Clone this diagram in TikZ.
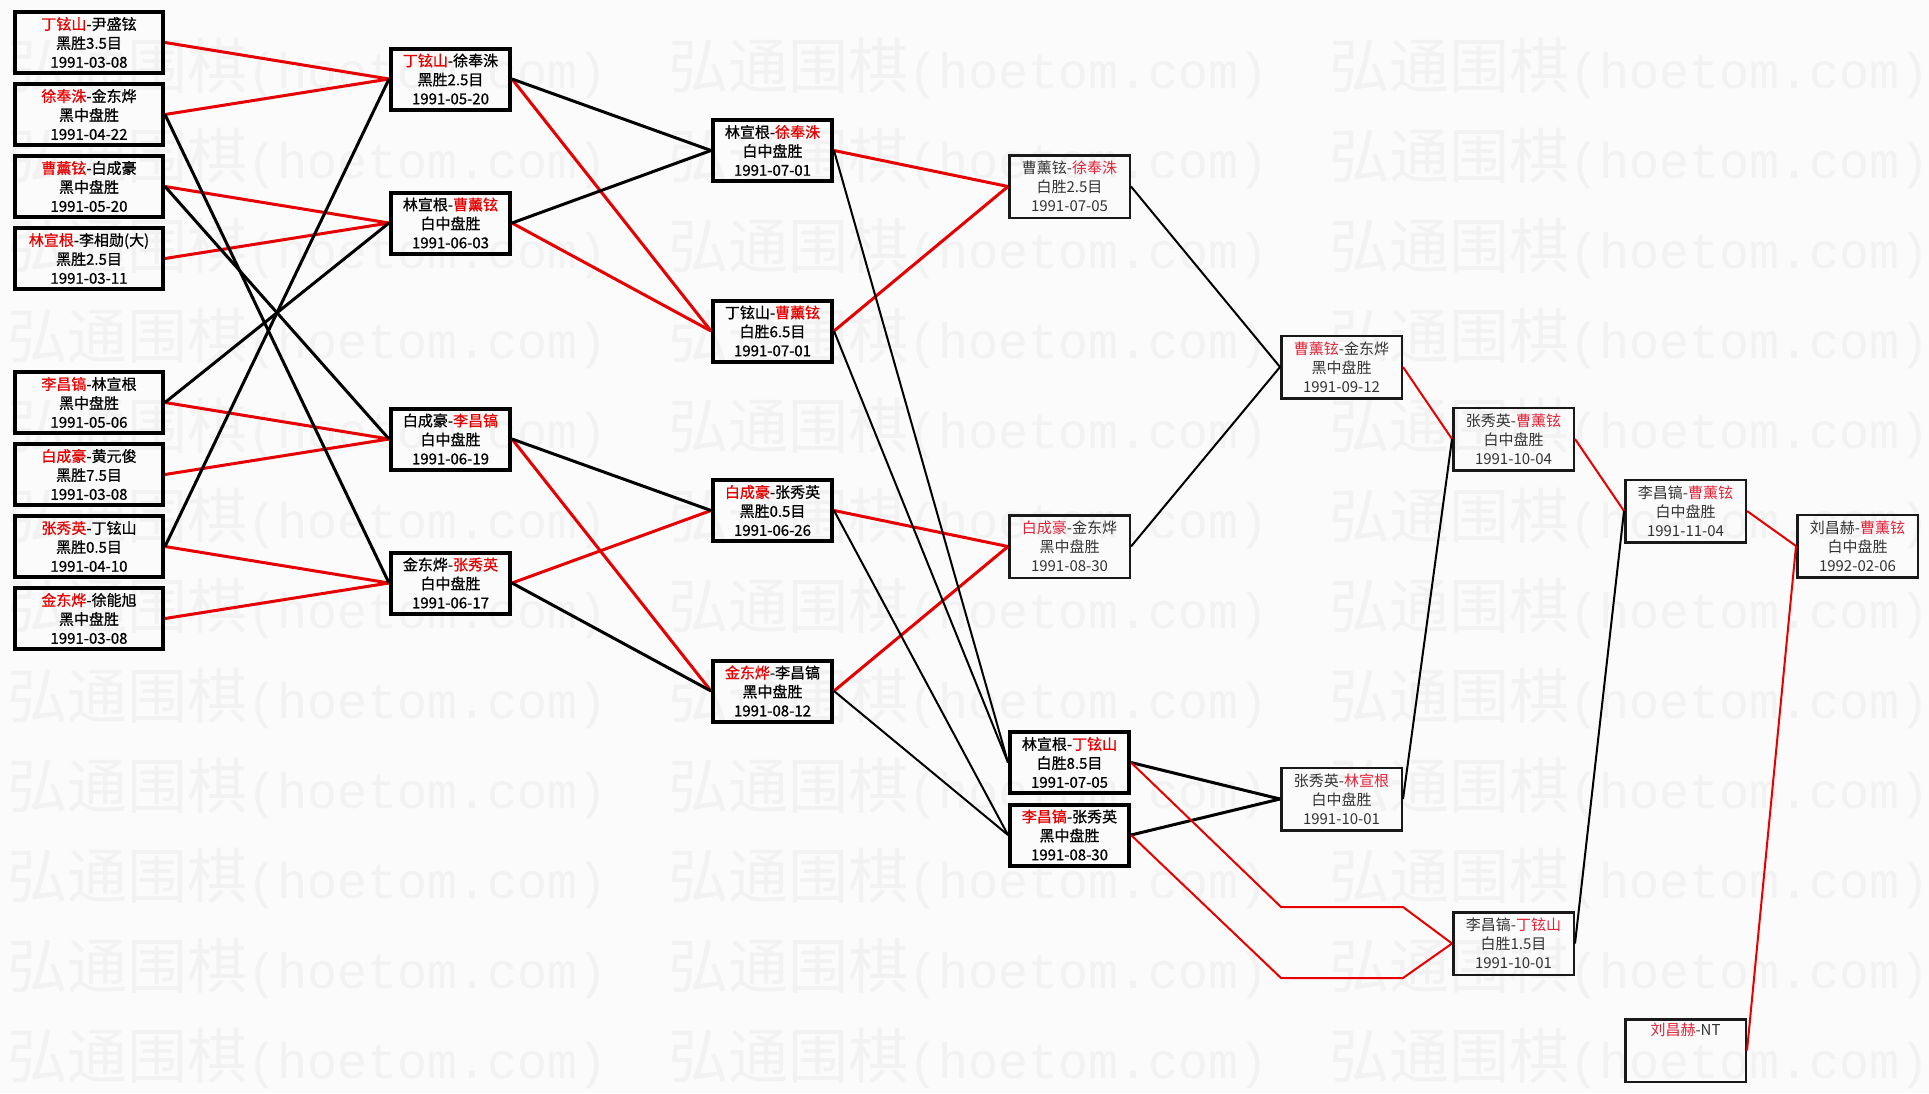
\documentclass[tikz,border=0pt]{standalone}
\usepackage{fontspec}
\setmainfont{Noto Sans CJK SC}
\newfontfamily\boldcjk{Noto Sans CJK SC}[FakeBold=0.8]
\newfontfamily\wmmono{Liberation Mono}
\definecolor{nred}{RGB}{230,0,0}
\definecolor{lred}{RGB}{225,35,55}
\definecolor{bgc}{RGB}{251,251,251}
\definecolor{wmc}{RGB}{242,242,242}
\newcommand\R[1]{\textcolor{nred}{#1}}
\newcommand\Rl[1]{\textcolor{lred}{#1}}
\tikzset{
 mbox/.style={draw=black, line width=4pt, inner sep=0pt, minimum width=119pt, minimum height=61pt, align=center, font=\boldcjk\fontsize{15}{19}\selectfont, text=black},
 widebox/.style={mbox, minimum width=148pt},
 lbox/.style={draw=black!90, line width=2.5pt, inner sep=0pt, minimum width=120.5pt, minimum height=62.5pt, align=center, font=\fontsize{15}{19}\selectfont, text=black!80},
 wl/.style={draw=nred, line width=3pt},
 ll/.style={draw=black, line width=3pt},
 wlt/.style={draw=nred, line width=2pt},
 llt/.style={draw=black, line width=2pt},
 wmark/.style={anchor=base west, inner sep=0pt, text=wmc},
}
\begin{document}
\begin{tikzpicture}[x=1pt,y=-1pt]
\clip (0,0) rectangle (1929,1093);
\fill[bgc] (0,0) rectangle (1929,1093);
% watermark
\foreach \k in {0,...,11}{
  \foreach \j in {0,1,2}{
    \node[wmark] (wm-\k-\j) at ({7+661*\j},{88+90*\k}) {\fontsize{60}{60}\selectfont 弘通围棋\wmmono\fontsize{50}{50}\selectfont(hoetom.com)};
  }
}
% column 1
\node[widebox] (a1) at (89,42.5) {\R{丁铉山}-尹盛铉\\黑胜3.5目\\1991-03-08};
\node[widebox] (a2) at (89,114.5) {\R{徐奉洙}-金东烨\\黑中盘胜\\1991-04-22};
\node[widebox] (a3) at (89,186.5) {\R{曹薰铉}-白成豪\\黑中盘胜\\1991-05-20};
\node[widebox] (a4) at (89,258.5) {\R{林宣根}-李相勋(大)\\黑胜2.5目\\1991-03-11};
\node[widebox] (a5) at (89,402.5) {\R{李昌镐}-林宣根\\黑中盘胜\\1991-05-06};
\node[widebox] (a6) at (89,474.5) {\R{白成豪}-黄元俊\\黑胜7.5目\\1991-03-08};
\node[widebox] (a7) at (89,546.5) {\R{张秀英}-丁铉山\\黑胜0.5目\\1991-04-10};
\node[widebox] (a8) at (89,618.5) {\R{金东烨}-徐能旭\\黑中盘胜\\1991-03-08};
% column 2
\node[mbox] (b1) at (450.5,79) {\R{丁铉山}-徐奉洙\\黑胜2.5目\\1991-05-20};
\node[mbox] (b2) at (450.5,223) {林宣根-\R{曹薰铉}\\白中盘胜\\1991-06-03};
\node[mbox] (b3) at (450.5,439) {白成豪-\R{李昌镐}\\白中盘胜\\1991-06-19};
\node[mbox] (b4) at (450.5,583) {金东烨-\R{张秀英}\\白中盘胜\\1991-06-17};
% column 3
\node[mbox] (c1) at (772.5,150.5) {林宣根-\R{徐奉洙}\\白中盘胜\\1991-07-01};
\node[mbox] (c2) at (772.5,331) {丁铉山-\R{曹薰铉}\\白胜6.5目\\1991-07-01};
\node[mbox] (c3) at (772.5,510.5) {\R{白成豪}-张秀英\\黑胜0.5目\\1991-06-26};
\node[mbox] (c4) at (772.5,691) {\R{金东烨}-李昌镐\\黑中盘胜\\1991-08-12};
% column 4
\node[lbox] (d1) at (1069.5,186.5) {曹薰铉-\Rl{徐奉洙}\\白胜2.5目\\1991-07-05};
\node[lbox] (d2) at (1069.5,546.5) {\Rl{白成豪}-金东烨\\黑中盘胜\\1991-08-30};
\node[mbox] (d3) at (1069.5,762.5) {林宣根-\R{丁铉山}\\白胜8.5目\\1991-07-05};
\node[mbox] (d4) at (1069.5,835) {\R{李昌镐}-张秀英\\黑中盘胜\\1991-08-30};
% column 5
\node[lbox] (e1) at (1341.5,367) {\Rl{曹薰铉}-金东烨\\黑中盘胜\\1991-09-12};
\node[lbox] (e2) at (1341.5,799) {张秀英-\Rl{林宣根}\\白中盘胜\\1991-10-01};
% column 6
\node[lbox] (f1) at (1513.5,439) {张秀英-\Rl{曹薰铉}\\白中盘胜\\1991-10-04};
\node[lbox] (f2) at (1513.5,943.5) {李昌镐-\Rl{丁铉山}\\白胜1.5目\\1991-10-01};
% column 7
\node[lbox] (g1) at (1685.5,511) {李昌镐-\Rl{曹薰铉}\\白中盘胜\\1991-11-04};
\node[lbox] (g2) at (1685.5,1050.5) {\strut\Rl{刘昌赫}-NT\\\strut\\\strut};
% column 8
\node[lbox] (h1) at (1857.5,546) {刘昌赫-\Rl{曹薰铉}\\白中盘胜\\1992-02-06};
% bend points
\coordinate (p1) at (1281,907);
\coordinate (p2) at (1403,907);
\coordinate (p3) at (1281,978);
\coordinate (p4) at (1403,978);
% col1 -> col2
\draw[wl] (a1.east) -- (b1.west);
\draw[wl] (a2.east) -- (b1.west);
\draw[wl] (a3.east) -- (b2.west);
\draw[wl] (a4.east) -- (b2.west);
\draw[wl] (a5.east) -- (b3.west);
\draw[wl] (a6.east) -- (b3.west);
\draw[wl] (a7.east) -- (b4.west);
\draw[wl] (a8.east) -- (b4.west);
\draw[ll] (a2.east) -- (b4.west);
\draw[ll] (a3.east) -- (b3.west);
\draw[ll] (a5.east) -- (b2.west);
\draw[ll] (a7.east) -- (b1.west);
% col2 -> col3
\draw[wl] (b1.east) -- (c2.west);
\draw[wl] (b2.east) -- (c2.west);
\draw[wl] (b3.east) -- (c4.west);
\draw[wl] (b4.east) -- (c3.west);
\draw[ll] (b1.east) -- (c1.west);
\draw[ll] (b2.east) -- (c1.west);
\draw[ll] (b3.east) -- (c3.west);
\draw[ll] (b4.east) -- (c4.west);
% col3 -> col4
\draw[wl] (c1.east) -- (d1.west);
\draw[wl] (c2.east) -- (d1.west);
\draw[wl] (c3.east) -- (d2.west);
\draw[wl] (c4.east) -- (d2.west);
\draw[llt] (c1.east) -- (d3.west);
\draw[llt] (c2.east) -- (d3.west);
\draw[llt] (c3.east) -- (d4.west);
\draw[llt] (c4.east) -- (d4.west);
% col4 -> col5 / col6
\draw[llt] (d1.east) -- (e1.west);
\draw[llt] (d2.east) -- (e1.west);
\draw[ll] (d3.east) -- (e2.west);
\draw[ll] (d4.east) -- (e2.west);
\draw[wlt] (d3.east) -- (p1) -- (p2) -- (f2.west);
\draw[wlt] (d4.east) -- (p3) -- (p4) -- (f2.west);
% later rounds
\draw[wlt] (e1.east) -- (f1.west);
\draw[llt] (e2.east) -- (f1.west);
\draw[wlt] (f1.east) -- (g1.west);
\draw[llt] (f2.east) -- (g1.west);
\draw[wlt] (g1.east) -- (h1.west);
\draw[wlt] (g2.east) -- (h1.west);
\end{tikzpicture}
\end{document}
